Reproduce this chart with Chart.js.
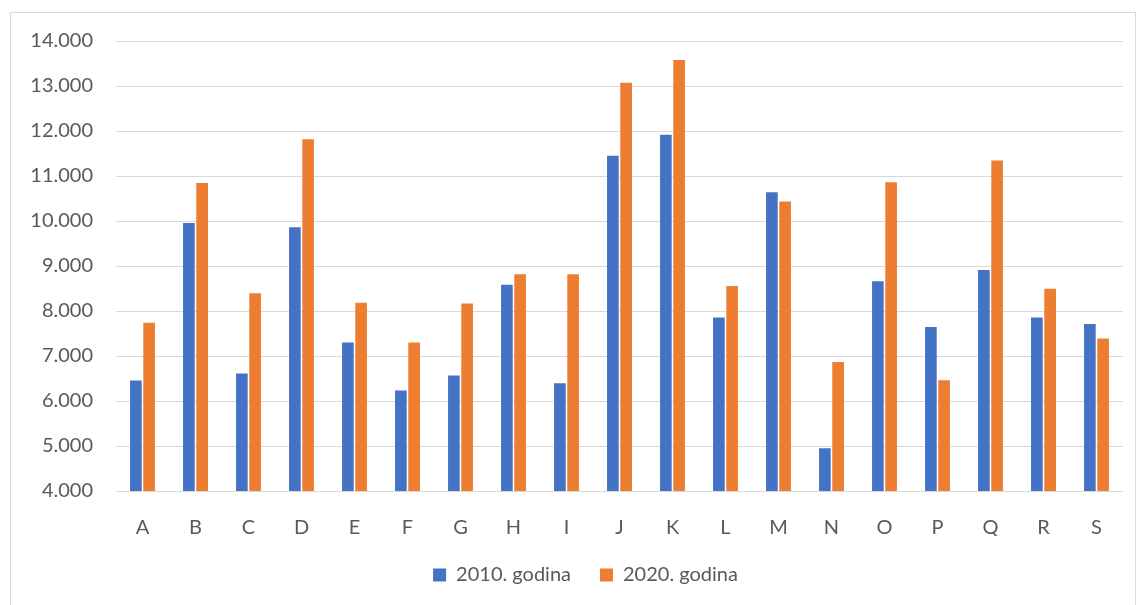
<!DOCTYPE html>
<html>
<head>
<meta charset="utf-8">
<script src="https://cdn.jsdelivr.net/npm/chart.js@4/dist/chart.umd.min.js"></script>
<style>
  html, body { margin: 0; padding: 0; background: #fff; }
  .okvir { position: absolute; left: 10px; top: 12px; width: 1124px; height: 600px; border: 1px solid #d9d9d9; }
  .container { position: absolute; left: 0; top: 0; width: 1139px; height: 605px; }
</style>
</head>
<body>
<div class="okvir"></div>
<div class="container"><canvas id="grafikon"></canvas></div>
<script>
const kategorije = ['A', 'B', 'C', 'D', 'E', 'F', 'G', 'H', 'I', 'J', 'K', 'L', 'M', 'N', 'O', 'P', 'Q', 'R', 'S'];
const godina2010 = [6456, 9957, 6611, 9861, 7301, 6233, 6567, 8585, 6396, 11448, 11915, 7858, 10640, 4950, 8659, 7642, 8911, 7858, 7709];
const godina2020 = [7739, 10847, 8392, 11819, 8184, 7301, 8169, 8815, 8815, 13073, 13577, 8555, 10432, 6864, 10862, 6463, 11344, 8496, 7390];
const oznakeY = ['4.000', '5.000', '6.000', '7.000', '8.000', '9.000', '10.000', '11.000', '12.000', '13.000', '14.000'];

const sivaTekst = '#595959';
const font = { family: 'Lato', size: 20 };

// legenda je u originalu malo desno od sredine
const pomakLegende = {
    id: 'pomakLegende',
    afterLayout(chart) {
        chart.legend.left += 16;
        chart.legend.right += 16;
    }
};

const data = {
    labels: kategorije,
    datasets: [{
        label: '2010. godina',
        data: godina2010,
        backgroundColor: '#4472C4',
        categoryPercentage: 0.5,
        barPercentage: 0.88
    }, {
        label: '2020. godina',
        data: godina2020,
        backgroundColor: '#ED7D31',
        categoryPercentage: 0.5,
        barPercentage: 0.88
    }]
};

const config = {
    type: 'bar',
    data: data,
    options: {
        responsive: true,
        maintainAspectRatio: false,
        animation: false,
        layout: {
            padding: { left: 16, right: 16, top: 41, bottom: 10 }
        },
        plugins: {
            legend: {
                position: 'bottom',
                labels: {
                    color: sivaTekst,
                    font: font,
                    boxWidth: 13,
                    boxHeight: 13,
                    padding: 29
                }
            },
            tooltip: { enabled: false }
        },
        scales: {
            x: {
                grid: { display: false },
                border: { display: false },
                ticks: {
                    color: sivaTekst,
                    font: font,
                    padding: 17
                },
                afterFit: (scale) => { scale.height = 45; }
            },
            y: {
                min: 4000,
                max: 14000,
                border: { display: false },
                grid: {
                    color: '#d9d9d9',
                    lineWidth: 1,
                    drawTicks: false
                },
                ticks: {
                    stepSize: 1000,
                    color: sivaTekst,
                    font: font,
                    padding: 23,
                    callback: (v, i) => oznakeY[i] // oznake kao u Excelu
                },
                afterFit: (scale) => { scale.width = 100; }
            }
        }
    },
    plugins: [pomakLegende]
};

new Chart(document.getElementById('grafikon'), config);
</script>
</body>
</html>
